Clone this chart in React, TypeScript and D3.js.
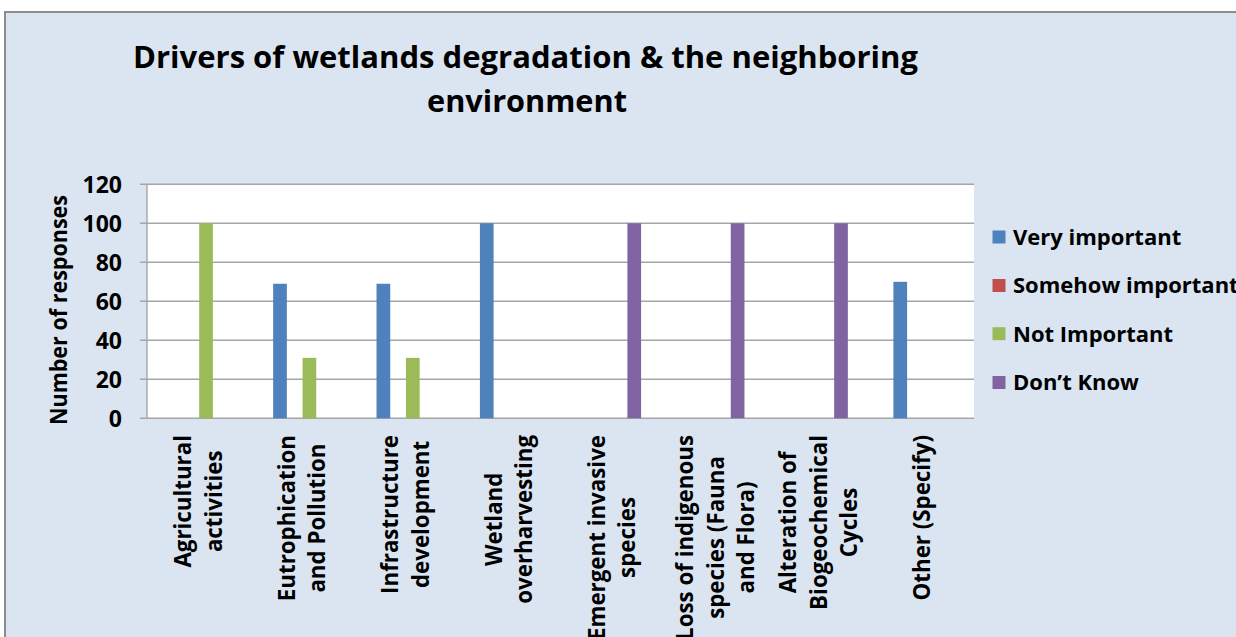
import React, { useEffect, useRef } from "react";
import * as d3 from "d3";

// Category labels (line breaks as they wrap under the axis)
const categories = [
  "Agricultural\nactivities",
  "Eutrophication\nand Pollution",
  "Infrastructure\ndevelopment",
  "Wetland\noverharvesting",
  "Emergent invasive\nspecies",
  "Loss of indigenous\nspecies (Fauna\nand Flora)",
  "Alteration of\nBiogeochemical\nCycles",
  "Other (Specify)",
];

const seriesNames = ["Very important", "Somehow important", "Not Important", "Don\u2019t Know"];
const seriesColors = ["#4F81BD", "#C0504D", "#9BBB59", "#8064A2"];

const veryImportant = [0, 69, 69, 100, 0, 0, 0, 70];
const somehowImportant = [0, 0, 0, 0, 0, 0, 0, 0];
const notImportant = [100, 31, 31, 0, 0, 0, 0, 0];
const dontKnow = [0, 0, 0, 0, 100, 100, 100, 0];

const yTicks = [0, 20, 40, 60, 80, 100, 120];

const titleLines = ["Drivers of wetlands degradation & the neighboring", "environment"];
const yAxisTitle = "Number of responses";

const W = 1236;
const H = 637;
const FONT = "'Open Sans', 'Noto Sans', sans-serif";

export default function App() {
  const ref = useRef<SVGSVGElement | null>(null);

  useEffect(() => {
    const svg = d3.select(ref.current);
    svg.selectAll("*").remove();

    const plot = { left: 147, right: 974, top: 184.3, bottom: 418.3 };

    // chart area
    svg.append("rect").attr("x", 0).attr("y", 0).attr("width", W).attr("height", H).attr("fill", "#ffffff");
    svg
      .append("rect")
      .attr("x", 5)
      .attr("y", 12)
      .attr("width", W + 20)
      .attr("height", H + 20)
      .attr("fill", "#DBE5F1")
      .attr("stroke", "#8C8C8C")
      .attr("stroke-width", 2);

    // title
    const titleWidths = [785, 200];
    const titleX = [525.5, 527];
    const titleY = [68, 112];
    titleLines.forEach((t, i) => {
      svg
        .append("text")
        .attr("x", titleX[i])
        .attr("y", titleY[i])
        .attr("text-anchor", "middle")
        .attr("font-family", FONT)
        .attr("font-weight", 700)
        .attr("font-size", 30)
        .attr("textLength", titleWidths[i])
        .attr("lengthAdjust", "spacingAndGlyphs")
        .attr("fill", "#000")
        .text(t);
    });

    const x = d3.scaleBand<string>().domain(categories).range([plot.left, plot.right]).padding(0);
    const groupFrac = 0.569;
    const bw = x.bandwidth();
    const groupOffset = (bw * (1 - groupFrac)) / 2;
    const xs = d3
      .scaleBand<string>()
      .domain(seriesNames)
      .range([groupOffset, groupOffset + bw * groupFrac])
      .padding(0);
    const y = d3.scaleLinear().domain([0, 120]).range([plot.bottom, plot.top]);

    // plot area
    svg
      .append("rect")
      .attr("x", plot.left)
      .attr("y", plot.top)
      .attr("width", plot.right - plot.left)
      .attr("height", plot.bottom - plot.top)
      .attr("fill", "#ffffff");

    // gridlines + ticks
    const g = svg.append("g");
    yTicks.forEach((v) => {
      g.append("line")
        .attr("x1", plot.left - 7)
        .attr("x2", plot.right)
        .attr("y1", y(v))
        .attr("y2", y(v))
        .attr("stroke", "#A6A6A6")
        .attr("stroke-width", 1.4);
      g.append("text")
        .attr("x", 122)
        .attr("y", y(v))
        .attr("dy", "0.36em")
        .attr("text-anchor", "end")
        .attr("font-family", FONT)
        .attr("font-weight", 700)
        .attr("font-size", 23)
        .attr("fill", "#000")
        .text(String(v));
    });
    g.append("line")
      .attr("x1", plot.left)
      .attr("x2", plot.left)
      .attr("y1", plot.top)
      .attr("y2", plot.bottom)
      .attr("stroke", "#A6A6A6")
      .attr("stroke-width", 1.4);

    // bars
    const seriesValues = [veryImportant, somehowImportant, notImportant, dontKnow];
    seriesValues.forEach((vals, si) => {
      svg
        .append("g")
        .selectAll("rect")
        .data(vals.map((v, ci) => ({ v, c: categories[ci] })))
        .join("rect")
        .attr("x", (d) => (x(d.c) as number) + (xs(seriesNames[si]) as number) + 0.5)
        .attr("width", xs.bandwidth() - 1)
        .attr("y", (d) => y(d.v))
        .attr("height", (d) => y(0) - y(d.v))
        .attr("fill", seriesColors[si]);
    });

    // y axis title
    svg
      .append("text")
      .attr("transform", `translate(67, 310) rotate(-90)`)
      .attr("text-anchor", "middle")
      .attr("font-family", FONT)
      .attr("font-weight", 700)
      .attr("font-size", 23)
      .attr("textLength", 230)
      .attr("lengthAdjust", "spacingAndGlyphs")
      .attr("fill", "#000")
      .text(yAxisTitle);

    // category labels, rotated, lines centred on each other
    const labelTop = 435;
    const lineGap = 30.5;
    categories.forEach((c) => {
      const lines = c.split("\n");
      const cx = (x(c) as number) + bw / 2;
      const lg = svg.append("g");
      const texts = lines.map((ln) =>
        lg
          .append("text")
          .attr("text-anchor", "middle")
          .attr("font-family", FONT)
          .attr("font-weight", 700)
          .attr("font-size", 22.3)
          .attr("fill", "#000")
          .text(ln)
      );
      const maxLen = d3.max(texts, (t) => (t.node() as SVGTextElement).getComputedTextLength()) || 0;
      const cy = labelTop + maxLen / 2;
      texts.forEach((t, i) => {
        const lx = cx + (i - (lines.length - 1) / 2) * lineGap;
        t.attr("transform", `translate(${lx}, ${cy}) rotate(-90)`).attr("dy", "0.36em");
      });
    });

    // legend
    const legendY = [237, 285.5, 333.7, 382.5];
    seriesNames.forEach((s, i) => {
      svg
        .append("rect")
        .attr("x", 992.5)
        .attr("y", legendY[i] - 6.5)
        .attr("width", 13)
        .attr("height", 13)
        .attr("fill", seriesColors[i]);
      svg
        .append("text")
        .attr("x", 1013)
        .attr("y", legendY[i])
        .attr("dy", "0.36em")
        .attr("font-family", FONT)
        .attr("font-weight", 700)
        .attr("font-size", 22)
        .attr("fill", "#000")
        .text(s);
    });
  }, []);

  return (
    <svg
      ref={ref}
      width={W}
      height={H}
      style={{ position: "absolute", left: 0, top: 0, display: "block" }}
    />
  );
}
